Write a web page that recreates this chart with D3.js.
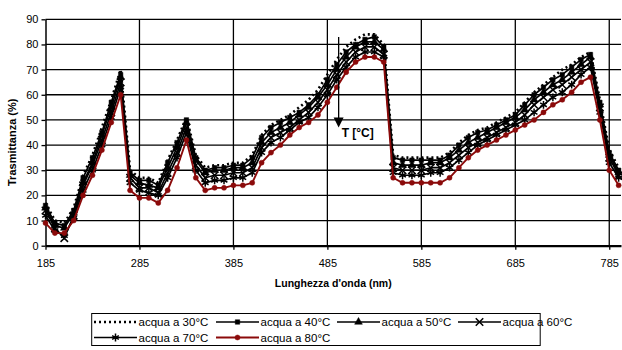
<!DOCTYPE html>
<html>
<head>
<meta charset="utf-8">
<script src="https://cdn.jsdelivr.net/npm/d3@7"></script>
<style>
  body { margin: 0; background: #fff; }
  svg { display: block; font-family: "Liberation Sans", Arial, sans-serif; }
</style>
</head>
<body>
<div id="chart"></div>
<script>
// data (transmittance %, one value per wavelength)
const wavelengths = [185, 195, 205, 215, 225, 235, 245, 255, 265, 275, 285, 295, 305, 315, 325, 335, 345, 355, 365, 375, 385, 395, 405, 415, 425, 435, 445, 455, 465, 475, 485, 495, 505, 515, 525, 535, 545, 555, 565, 575, 585, 595, 605, 615, 625, 635, 645, 655, 665, 675, 685, 695, 705, 715, 725, 735, 745, 755, 765, 775, 785, 795]
const acqua30 = [17, 10, 9, 15, 28, 36, 47, 58, 70, 30, 27, 27, 25, 34, 42, 51, 36, 31, 32, 32, 33, 33, 36, 44, 48, 50, 52, 55, 58, 62, 68, 74, 79, 82, 84, 84, 80, 36, 35, 35, 35, 35, 35, 37, 41, 44, 46, 47, 49, 51, 53, 57, 61, 64, 67, 70, 72, 75, 77, 58, 38, 31]
const acqua40 = [16, 9, 8, 14, 27, 35, 45, 57, 68, 29, 26, 26, 24, 33, 41, 50, 35, 30, 31, 31, 32, 32, 35, 43, 47, 49, 51, 53, 56, 60, 66, 72, 77, 80, 82, 83, 79, 35, 34, 34, 34, 34, 34, 36, 40, 43, 45, 46, 48, 50, 52, 56, 60, 63, 66, 68, 71, 74, 76, 57, 37, 30]
const acqua50 = [15, 8, 7, 13, 25, 33, 44, 55, 67, 28, 25, 24, 23, 31, 39, 49, 34, 29, 30, 30, 31, 31, 33, 41, 45, 47, 49, 52, 55, 59, 64, 70, 75, 79, 81, 81, 78, 33, 32, 32, 32, 33, 33, 35, 38, 41, 43, 45, 47, 49, 51, 54, 58, 61, 64, 66, 69, 72, 75, 56, 36, 29]
const acqua60 = [14, 7, 3, 12, 24, 32, 42, 53, 65, 27, 23, 23, 21, 29, 37, 47, 32, 27, 28, 28, 29, 29, 31, 39, 43, 45, 47, 50, 53, 57, 62, 68, 73, 77, 79, 79, 76, 31, 30, 30, 30, 31, 31, 33, 36, 39, 41, 43, 45, 47, 49, 52, 56, 59, 62, 64, 67, 70, 73, 55, 35, 28]
const acqua70 = [12, 6, 4, 11, 22, 30, 40, 51, 63, 25, 22, 21, 20, 27, 35, 45, 30, 25, 26, 26, 27, 27, 29, 37, 41, 43, 46, 49, 51, 55, 60, 66, 71, 75, 77, 77, 75, 29, 28, 28, 28, 29, 29, 31, 34, 37, 40, 42, 44, 46, 48, 50, 53, 56, 59, 61, 64, 68, 71, 53, 33, 27]
const acqua80 = [9, 5, 5, 10, 20, 28, 38, 49, 60, 22, 19, 19, 17, 22, 31, 42, 27, 22, 23, 23, 24, 24, 25, 33, 37, 40, 44, 47, 49, 52, 57, 63, 69, 73, 75, 75, 73, 27, 25, 25, 25, 25, 25, 27, 31, 35, 38, 40, 42, 44, 46, 48, 50, 53, 56, 58, 61, 65, 67, 50, 30, 24]

const seriesNames = ['acqua a 30°C', 'acqua a 40°C', 'acqua a 50°C', 'acqua a 60°C', 'acqua a 70°C', 'acqua a 80°C']
const xTicks = [185, 285, 385, 485, 585, 685, 785]
const yTicks = [0, 10, 20, 30, 40, 50, 60, 70, 80, 90]

const width = 622
const height = 350
const plot = { left: 45.5, right: 621, top: 19.3, bottom: 245.7 }
const red = '#8b0a0a'

// styles per series
const styles = [
  { color: '#000', dash: '2,3', lineWidth: 2.6, symbol: null },
  { color: '#000', dash: null, lineWidth: 1.7, symbol: d3.symbolSquare, size: 20, fill: true },
  { color: '#000', dash: null, lineWidth: 1.7, symbol: d3.symbolTriangle, size: 26, fill: true },
  { color: '#000', dash: null, lineWidth: 1.7, symbol: d3.symbolTimes, size: 38, fill: false },
  { color: '#000', dash: null, lineWidth: 1.7, symbol: d3.symbolAsterisk, size: 42, fill: false },
  { color: red, dash: null, lineWidth: 1.9, symbol: d3.symbolCircle, size: 20, fill: true }
]
const values = [acqua30, acqua40, acqua50, acqua60, acqua70, acqua80]
const series = seriesNames.map((name, i) => ({
  name,
  style: styles[i],
  points: wavelengths.map((w, j) => ({ w, v: values[i][j] }))
}))

const svg = d3.select('#chart')
  .append('svg')
  .attr('width', width)
  .attr('height', height)

const x = d3.scaleLinear().domain([185, 797.5]).range([plot.left, plot.right])
const y = d3.scaleLinear().domain([0, 90]).range([plot.bottom, plot.top])

/* ------- GRID -------*/
const grid = svg.append('g')
grid.selectAll('line.h')
  .data(yTicks.filter(t => t > 0))
  .enter()
  .append('line')
  .attr('class', 'h')
  .attr('x1', plot.left)
  .attr('x2', plot.right)
  .attr('y1', d => y(d))
  .attr('y2', d => y(d))
  .attr('stroke', '#000')
  .attr('stroke-width', 1.3)
grid.selectAll('line.v')
  .data(xTicks.slice(1))
  .enter()
  .append('line')
  .attr('class', 'v')
  .attr('x1', d => x(d))
  .attr('x2', d => x(d))
  .attr('y1', plot.top)
  .attr('y2', plot.bottom)
  .attr('stroke', '#000')
  .attr('stroke-width', 1.3)

/* ------- AXES -------*/
const yAxis = svg.append('g')
  .attr('transform', `translate(${plot.left},0)`)
  .call(d3.axisLeft(y).tickValues(yTicks).tickSize(4).tickSizeOuter(0).tickPadding(3))
const xAxis = svg.append('g')
  .attr('transform', `translate(0,${plot.bottom})`)
  .call(d3.axisBottom(x).tickValues(xTicks).tickSize(4).tickSizeOuter(0).tickPadding(10))

yAxis.select('.domain').attr('stroke-width', 1.5)
xAxis.select('.domain').attr('stroke-width', 2.2)
svg.selectAll('.tick line').attr('stroke-width', 1.3)
svg.selectAll('.tick text')
  .attr('font-size', 11)
  .attr('font-family', '"Liberation Sans", Arial, sans-serif')
  .attr('fill', '#000')

svg.append('text')
  .attr('transform', 'translate(16,186) rotate(-90)')
  .attr('font-size', 11)
  .attr('font-weight', 'bold')
  .text('Trasmittanza (%)')

svg.append('text')
  .attr('x', (plot.left + plot.right) / 2)
  .attr('y', 287)
  .attr('text-anchor', 'middle')
  .attr('font-size', 10.5)
  .attr('font-weight', 'bold')
  .text("Lunghezza d'onda (nm)")

/* ------- SERIES -------*/
const line = d3.line().x(d => x(d.w)).y(d => y(d.v))

const drawSymbol = (sel, st) => {
  sel.attr('d', d3.symbol().type(st.symbol).size(st.size))
    .attr('fill', st.fill ? st.color : 'none')
    .attr('stroke', st.color)
    .attr('stroke-width', st.fill ? 0.5 : 1.5)
}

const seriesG = svg.append('g')
series.forEach(s => {
  const g = seriesG.append('g')
  g.append('path')
    .datum(s.points)
    .attr('fill', 'none')
    .attr('stroke', s.style.color)
    .attr('stroke-width', s.style.lineWidth)
    .attr('stroke-dasharray', s.style.dash)
    .attr('stroke-linejoin', 'round')
    .attr('d', line)
  if (s.style.symbol) {
    g.selectAll('path.mark')
      .data(s.points)
      .enter()
      .append('path')
      .attr('class', 'mark')
      .attr('transform', d => `translate(${x(d.w)},${y(d.v)})`)
      .call(drawSymbol, s.style)
  }
})

/* ------- ANNOTATION -------*/
const arrow = { nm: 497, from: 83, to: 47 }
const ax = x(arrow.nm)
svg.append('line')
  .attr('x1', ax).attr('x2', ax)
  .attr('y1', y(arrow.from)).attr('y2', y(arrow.to) - 8)
  .attr('stroke', '#000')
  .attr('stroke-width', 1.3)
svg.append('path')
  .attr('d', `M${ax - 5},${y(arrow.to) - 10}L${ax + 5},${y(arrow.to) - 10}L${ax},${y(arrow.to)}Z`)
  .attr('fill', '#000')
svg.append('text')
  .attr('x', ax + 3)
  .attr('y', y(arrow.to) + 10)
  .attr('font-size', 12)
  .attr('font-weight', 'bold')
  .text('T [°C]')

/* ------- LEGEND -------*/
const legend = svg.append('g')
legend.append('rect')
  .attr('x', 91.7)
  .attr('y', 313.5)
  .attr('width', 448.5)
  .attr('height', 32)
  .attr('fill', 'none')
  .attr('stroke', '#000')
  .attr('stroke-width', 1)

const cols = [94, 216, 337, 458]
const rows = [322, 337.5]
series.forEach((s, i) => {
  const cx = cols[i % 4]
  const cy = rows[Math.floor(i / 4)]
  const g = legend.append('g')
  g.append('line')
    .attr('x1', cx).attr('x2', cx + 43)
    .attr('y1', cy).attr('y2', cy)
    .attr('stroke', s.style.color)
    .attr('stroke-width', s.style.lineWidth)
    .attr('stroke-dasharray', s.style.dash)
  if (s.style.symbol) {
    g.append('path')
      .attr('transform', `translate(${cx + 21.5},${cy})`)
      .call(drawSymbol, s.style)
  }
  g.append('text')
    .attr('x', cx + 44.5)
    .attr('y', cy + 4)
    .attr('font-size', 11.5)
    .text(s.name)
})
</script>
</body>
</html>
